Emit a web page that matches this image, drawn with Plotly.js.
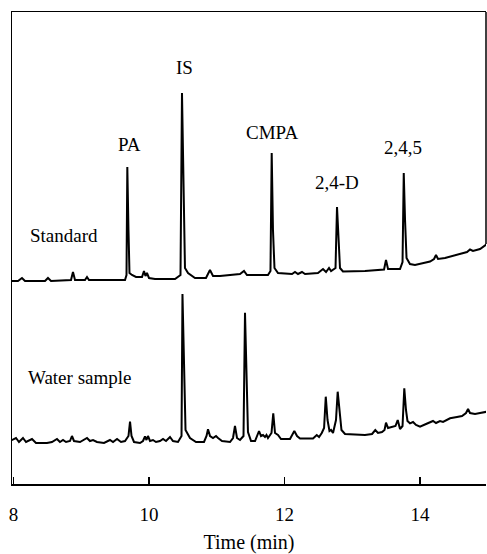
<!DOCTYPE html>
<html>
<head>
<meta charset="utf-8">
<script src="https://cdn.plot.ly/plotly-3.0.1.min.js"></script>
<style>html,body{margin:0;padding:0;background:#fff}#chart{width:487px;height:554px}</style>
</head>
<body>
<div id="chart"></div>
<script>
// Time (min) and detector signal (arbitrary units, offset traces)
const stdTime = [7.904,8.066,8.125,8.170,8.465,8.509,8.554,8.849,8.878,8.908,9.055,9.085,9.114,9.424,9.646,9.668,9.680,9.697,9.712,9.749,9.808,9.897,9.926,9.948,9.970,10.000,10.089,10.384,10.465,10.487,10.509,10.531,10.576,10.679,10.841,10.900,10.945,11.048,11.343,11.402,11.446,11.756,11.793,11.811,11.830,11.852,11.904,12.111,12.155,12.199,12.258,12.303,12.494,12.568,12.613,12.657,12.687,12.753,12.775,12.797,12.819,12.863,13.188,13.469,13.498,13.528,13.705,13.742,13.760,13.779,13.801,13.852,13.926,14.148,14.207,14.236,14.266,14.369,14.590,14.694,14.738,14.782,14.886,14.989];
const stdSignal = [203,203,206,203,203,206,203,204,212,204,204,207,204,204,204,209,317,254,211,209,207,207,213,208,211,206,205,205,209,391,284,216,211,206,206,214,208,208,210,213,209,209,213,331,254,216,211,210,212,210,212,210,211,215,212,216,213,216,277,244,216,212.5,213,214.5,224,215,215,222,311,264,226,220,219,222.5,225,229,225,226,230,232,234.5,233,235,240];

const waterTime = [7.919,7.978,8.037,8.081,8.140,8.185,8.273,8.332,8.494,8.568,8.642,8.686,8.731,8.775,8.834,8.863,8.893,8.982,9.085,9.129,9.174,9.232,9.336,9.424,9.469,9.528,9.587,9.646,9.697,9.720,9.742,9.779,9.867,9.911,9.941,9.963,9.985,10.015,10.059,10.103,10.162,10.207,10.251,10.310,10.354,10.428,10.480,10.494,10.517,10.539,10.605,10.694,10.812,10.849,10.871,10.901,10.945,10.989,11.019,11.078,11.196,11.240,11.269,11.299,11.343,11.395,11.417,11.439,11.461,11.506,11.565,11.624,11.653,11.683,11.712,11.734,11.756,11.808,11.834,11.860,11.904,11.948,12.081,12.145,12.185,12.229,12.421,12.476,12.510,12.550,12.584,12.609,12.635,12.664,12.687,12.716,12.760,12.785,12.812,12.841,12.893,13.188,13.292,13.340,13.380,13.439,13.476,13.498,13.528,13.587,13.638,13.671,13.705,13.742,13.768,13.793,13.815,13.852,13.897,13.941,14.000,14.089,14.148,14.192,14.236,14.295,14.340,14.443,14.546,14.620,14.679,14.709,14.738,14.812,14.886,14.989];
const waterSignal = [42,44,46,42,46,42,45,41,41,42,45,42,44,42,43,48,43,42,46,43,44,42,41,44,42,45,42,43,48,62.3,48,42,41,43,47.5,44,48,43,44,42,43,45,43,47,43,42,48,190,104,54,46,42,42,48,54.7,48,46,48,46,43,42,46,58,46,44,48,171.3,104,52,43,43,53,48,49,47,49,46,51,70.7,51,49,45,45,53,48,45.5,45.5,49,47,51,56,87.3,64,53,54,51,64,92.3,72,54,50,49,50,54,51,52,54,61.3,56,57,58,64,55,58,95.7,74,63,60.7,62,59,57.3,60,61.3,63,61,63,62,65.7,67,68,71,75,71,70,71,72.3];

const tickValues = [8, 10, 12, 14];
const tickLabels = ["8", "10", "12", "14"];

const peakNames = ["PA", "IS", "CMPA", "2,4-D", "2,4,5"];
const peakLabelTime = [9.705, 10.531, 11.815, 12.775, 13.749];
const peakLabelSignal = [340, 417, 352, 302, 337];

const traceNames = ["Standard", "Water sample"];
const traceLabelTime = [8.214, 8.185];
const traceLabelSignal = [249, 107];

const serif = "Liberation Serif, Times New Roman, serif";

const data = [
  {x: stdTime, y: stdSignal, type: "scatter", mode: "lines", line: {color: "#000", width: 2}, hoverinfo: "none"},
  {x: waterTime, y: waterSignal, type: "scatter", mode: "lines", line: {color: "#000", width: 2}, hoverinfo: "none"}
];

const annotations = [];
peakNames.forEach((n, i) => annotations.push({
  x: peakLabelTime[i], y: peakLabelSignal[i], xref: "x", yref: "y", text: n,
  showarrow: false, xanchor: "center", yanchor: "middle", font: {family: serif, size: 19, color: "#000"}
}));
traceNames.forEach((n, i) => annotations.push({
  x: traceLabelTime[i], y: traceLabelSignal[i], xref: "x", yref: "y", text: n,
  showarrow: false, xanchor: "left", yanchor: "middle", font: {family: serif, size: 19, color: "#000"}
}));

const layout = {
  width: 487, height: 554,
  margin: {l: 12, r: 1, t: 12, b: 70},
  paper_bgcolor: "#fff", plot_bgcolor: "#fff",
  showlegend: false,
  xaxis: {
    range: [7.978, 14.974],
    tickvals: tickValues, ticktext: tickLabels,
    ticks: "inside", ticklen: 7, tickwidth: 1.5, tickcolor: "#000",
    showline: true, linecolor: "#000", linewidth: 1.5, mirror: true,
    showgrid: false, zeroline: false,
    tickfont: {family: serif, size: 19, color: "#000"},
    ticklabelstandoff: 13,
    title: {text: "Time (min)", font: {family: serif, size: 20, color: "#000"}, standoff: 10},
    automargin: false
  },
  yaxis: {
    range: [0, 472],
    showline: true, linecolor: "#000", linewidth: 1.5, mirror: false,
    showticklabels: false, ticks: "", showgrid: false, zeroline: false,
    automargin: false
  },
  shapes: [{
    type: "line", xref: "paper", yref: "y", x0: 1, x1: 1,
    y0: stdSignal[stdSignal.length - 1], y1: 472,
    line: {color: "#000", width: 1.5}
  }],
  annotations: annotations
};

Plotly.newPlot("chart", data, layout, {displayModeBar: false, staticPlot: true});
</script>
</body>
</html>
